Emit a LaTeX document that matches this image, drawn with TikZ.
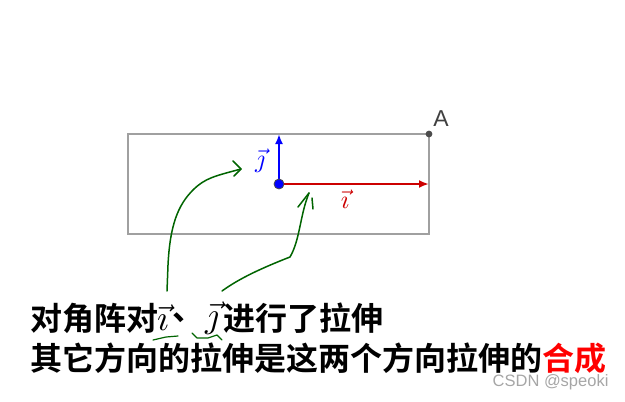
\documentclass[tikz,border=0pt]{standalone}
\usepackage{fontspec}
\usepackage{graphicx}
\newfontfamily\cjk{Noto Sans CJK SC}[BoldFont={* Bold}]
\newfontfamily\lsans{Liberation Sans}
\usetikzlibrary{arrows.meta}
\definecolor{gframe}{HTML}{A0A0A0}
\definecolor{vred}{HTML}{CC0000}
\definecolor{vblue}{HTML}{0000FF}
\definecolor{pen}{HTML}{006400}
\tikzset{
  frame/.style={draw=gframe,line width=1.4pt},
  vecred/.style={draw=vred,line width=2.2pt,-{Latex[length=10pt,width=8pt]}},
  vecblue/.style={draw=vblue,line width=2.2pt,-{Latex[length=10pt,width=8pt]}},
  ink/.style={draw=pen,line width=1.5pt,line cap=round,line join=round},
  bigtext/.style={inner sep=0pt,font=\cjk\bfseries\fontsize{32}{38}\selectfont},
}
\begin{document}
\begin{tikzpicture}[x=1pt,y=-1pt]
\useasboundingbox (0,0) rectangle (625,402);
% frame
\draw[frame] (128,134) rectangle (429,234);
\coordinate (A) at (429,134);
\coordinate (O) at (279,184);
\coordinate (Ie) at (429,184);
\coordinate (Je) at (279,134);
\draw[vecred] (O) -- (Ie);
\draw[vecblue] (O) -- (Je);
\fill[vblue,draw=black!70,line width=0.8pt] (O) circle (5);
\fill[black!70] (A) circle (3.4);
\node[font=\lsans\fontsize{23}{24}\selectfont,text=black!75] (Alab) at (441,119) {A};
\node[text=vblue,inner sep=0pt] (jlab) at (260,161) {\scalebox{2.6}{$\vec{\jmath}$}};
\node[text=vred,inner sep=0pt] (ilab) at (345,199) {\scalebox{2.6}{$\vec{\imath}$}};
% green hand-drawn arrows
\coordinate (c1s) at (167,291);
\coordinate (c1e) at (241,169);
\draw[ink] (c1s) -- (168,265) .. controls (170,225) and (178,205) .. (193,190)
  .. controls (205,178) and (215,176) .. (c1e);
\draw[ink] (233,161) -- (c1e) -- (234,176);
\coordinate (c2s) at (222,291);
\coordinate (c2e) at (309,193);
\draw[ink] (c2s) .. controls (240,278) and (262,268) .. (290,257)
  .. controls (300,240) and (300,215) .. (c2e);
\draw[ink] (298,207) -- (c2e);
\draw[ink] (312,198) -- (313,209);
% text
\node[bigtext,anchor=west] (t1a) at (30,318) {对角阵对};
\node[inner sep=0pt,anchor=west] (ti) at (157,318) {\scalebox{3.6}{$\vec{\imath}$}};
\node[bigtext,anchor=west] (tc) at (172,318) {、};
\node[inner sep=0pt,anchor=west] (tj) at (205,318) {\scalebox{3.6}{$\vec{\jmath}$}};
\node[bigtext,anchor=west] (t1b) at (223,318) {进行了拉伸};
\node[bigtext,anchor=west] (t2) at (30,358) {其它方向的拉伸是这两个方向拉伸的\textcolor{red}{合成}};
% underline squiggles
\draw[ink,line width=1.2pt] (153,340) -- (166,337) -- (178,336);
\draw[ink,line width=1.2pt] (192,333) -- (197,338) -- (208,338) -- (217,335) -- (222,340);
% watermark
\node[font=\lsans\fontsize{16.5}{18}\selectfont,text=black!35,anchor=east] (wm) at (612,382) {CSDN @speoki};
\end{tikzpicture}
\end{document}
